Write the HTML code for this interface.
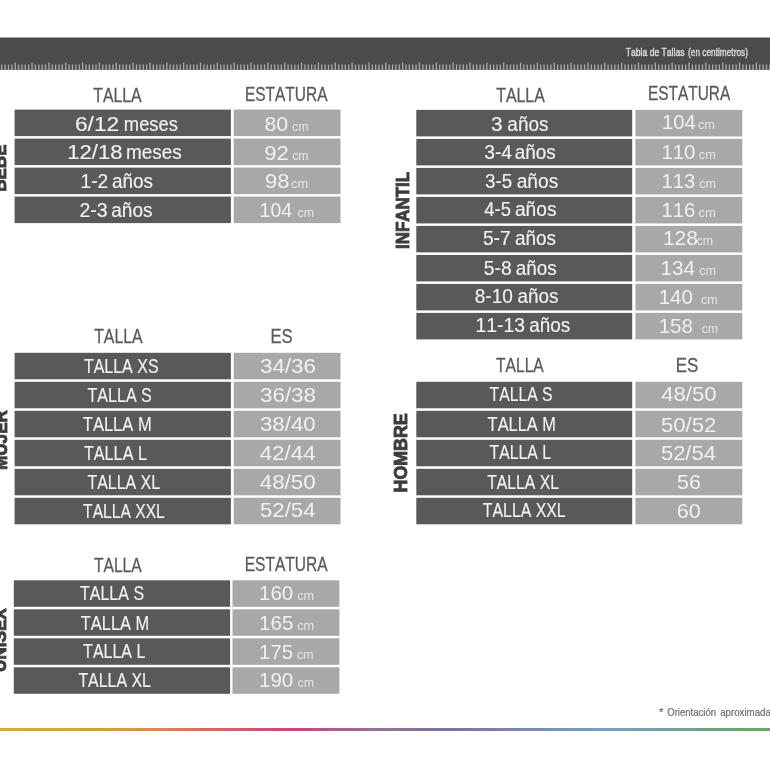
<!DOCTYPE html>
<html><head><meta charset="utf-8"><title>Tabla de Tallas</title>
<style>
html,body{margin:0;padding:0;background:#fff;}
body{width:770px;height:770px;overflow:hidden;}
svg{display:block;will-change:transform;font-family:'Liberation Sans', sans-serif;font-kerning:none;}
text{font-family:'Liberation Sans', sans-serif;}
</style></head><body>
<svg width="770" height="770" viewBox="0 0 770 770">
<defs><linearGradient id="rb" x1="0" y1="0" x2="770" y2="0" gradientUnits="userSpaceOnUse">
<stop offset="0" stop-color="#d8aa40"/>
<stop offset="0.13" stop-color="#d4a03e"/>
<stop offset="0.2" stop-color="#d88c50"/>
<stop offset="0.26" stop-color="#d07060"/>
<stop offset="0.38" stop-color="#c4487c"/>
<stop offset="0.49" stop-color="#947098"/>
<stop offset="0.58" stop-color="#8070a0"/>
<stop offset="0.71" stop-color="#7890b0"/>
<stop offset="0.78" stop-color="#7c9cc0"/>
<stop offset="0.83" stop-color="#78a0b4"/>
<stop offset="0.9" stop-color="#72a092"/>
<stop offset="1" stop-color="#6aa852"/>
</linearGradient></defs>
<rect x="0" y="0" width="770" height="770" fill="#ffffff"/>
<rect x="0.00" y="37.50" width="770.00" height="32.40" fill="#4a4c4a"/>
<path d="M1.72 64.4V69.9 M5.09 64.4V69.9 M8.46 64.4V69.9 M11.83 64.4V69.9 M15.20 62.4V69.9 M18.57 64.4V69.9 M21.94 64.4V69.9 M25.31 64.4V69.9 M28.68 64.4V69.9 M32.05 62.4V69.9 M35.41 64.4V69.9 M38.78 64.4V69.9 M42.15 64.4V69.9 M45.52 64.4V69.9 M48.89 62.4V69.9 M52.26 64.4V69.9 M55.63 64.4V69.9 M59.00 64.4V69.9 M62.37 64.4V69.9 M65.73 62.4V69.9 M69.10 64.4V69.9 M72.47 64.4V69.9 M75.84 64.4V69.9 M79.21 64.4V69.9 M82.58 62.4V69.9 M85.95 64.4V69.9 M89.32 64.4V69.9 M92.69 64.4V69.9 M96.06 64.4V69.9 M99.42 62.4V69.9 M102.79 64.4V69.9 M106.16 64.4V69.9 M109.53 64.4V69.9 M112.90 64.4V69.9 M116.27 62.4V69.9 M119.64 64.4V69.9 M123.01 64.4V69.9 M126.38 64.4V69.9 M129.75 64.4V69.9 M133.11 62.4V69.9 M136.48 64.4V69.9 M139.85 64.4V69.9 M143.22 64.4V69.9 M146.59 64.4V69.9 M149.96 62.4V69.9 M153.33 64.4V69.9 M156.70 64.4V69.9 M160.07 64.4V69.9 M163.44 64.4V69.9 M166.80 62.4V69.9 M170.17 64.4V69.9 M173.54 64.4V69.9 M176.91 64.4V69.9 M180.28 64.4V69.9 M183.65 62.4V69.9 M187.02 64.4V69.9 M190.39 64.4V69.9 M193.76 64.4V69.9 M197.13 64.4V69.9 M200.49 62.4V69.9 M203.86 64.4V69.9 M207.23 64.4V69.9 M210.60 64.4V69.9 M213.97 64.4V69.9 M217.34 62.4V69.9 M220.71 64.4V69.9 M224.08 64.4V69.9 M227.45 64.4V69.9 M230.82 64.4V69.9 M234.18 62.4V69.9 M237.55 64.4V69.9 M240.92 64.4V69.9 M244.29 64.4V69.9 M247.66 64.4V69.9 M251.03 62.4V69.9 M254.40 64.4V69.9 M257.77 64.4V69.9 M261.14 64.4V69.9 M264.51 64.4V69.9 M267.88 62.4V69.9 M271.24 64.4V69.9 M274.61 64.4V69.9 M277.98 64.4V69.9 M281.35 64.4V69.9 M284.72 62.4V69.9 M288.09 64.4V69.9 M291.46 64.4V69.9 M294.83 64.4V69.9 M298.20 64.4V69.9 M301.56 62.4V69.9 M304.93 64.4V69.9 M308.30 64.4V69.9 M311.67 64.4V69.9 M315.04 64.4V69.9 M318.41 62.4V69.9 M321.78 64.4V69.9 M325.15 64.4V69.9 M328.52 64.4V69.9 M331.89 64.4V69.9 M335.25 62.4V69.9 M338.62 64.4V69.9 M341.99 64.4V69.9 M345.36 64.4V69.9 M348.73 64.4V69.9 M352.10 62.4V69.9 M355.47 64.4V69.9 M358.84 64.4V69.9 M362.21 64.4V69.9 M365.58 64.4V69.9 M368.94 62.4V69.9 M372.31 64.4V69.9 M375.68 64.4V69.9 M379.05 64.4V69.9 M382.42 64.4V69.9 M385.79 62.4V69.9 M389.16 64.4V69.9 M392.53 64.4V69.9 M395.90 64.4V69.9 M399.27 64.4V69.9 M402.63 62.4V69.9 M406.00 64.4V69.9 M409.37 64.4V69.9 M412.74 64.4V69.9 M416.11 64.4V69.9 M419.48 62.4V69.9 M422.85 64.4V69.9 M426.22 64.4V69.9 M429.59 64.4V69.9 M432.96 64.4V69.9 M436.32 62.4V69.9 M439.69 64.4V69.9 M443.06 64.4V69.9 M446.43 64.4V69.9 M449.80 64.4V69.9 M453.17 62.4V69.9 M456.54 64.4V69.9 M459.91 64.4V69.9 M463.28 64.4V69.9 M466.65 64.4V69.9 M470.01 62.4V69.9 M473.38 64.4V69.9 M476.75 64.4V69.9 M480.12 64.4V69.9 M483.49 64.4V69.9 M486.86 62.4V69.9 M490.23 64.4V69.9 M493.60 64.4V69.9 M496.97 64.4V69.9 M500.34 64.4V69.9 M503.70 62.4V69.9 M507.07 64.4V69.9 M510.44 64.4V69.9 M513.81 64.4V69.9 M517.18 64.4V69.9 M520.55 62.4V69.9 M523.92 64.4V69.9 M527.29 64.4V69.9 M530.66 64.4V69.9 M534.03 64.4V69.9 M537.39 62.4V69.9 M540.76 64.4V69.9 M544.13 64.4V69.9 M547.50 64.4V69.9 M550.87 64.4V69.9 M554.24 62.4V69.9 M557.61 64.4V69.9 M560.98 64.4V69.9 M564.35 64.4V69.9 M567.72 64.4V69.9 M571.09 62.4V69.9 M574.45 64.4V69.9 M577.82 64.4V69.9 M581.19 64.4V69.9 M584.56 64.4V69.9 M587.93 62.4V69.9 M591.30 64.4V69.9 M594.67 64.4V69.9 M598.04 64.4V69.9 M601.41 64.4V69.9 M604.77 62.4V69.9 M608.14 64.4V69.9 M611.51 64.4V69.9 M614.88 64.4V69.9 M618.25 64.4V69.9 M621.62 62.4V69.9 M624.99 64.4V69.9 M628.36 64.4V69.9 M631.73 64.4V69.9 M635.10 64.4V69.9 M638.47 62.4V69.9 M641.83 64.4V69.9 M645.20 64.4V69.9 M648.57 64.4V69.9 M651.94 64.4V69.9 M655.31 62.4V69.9 M658.68 64.4V69.9 M662.05 64.4V69.9 M665.42 64.4V69.9 M668.79 64.4V69.9 M672.15 62.4V69.9 M675.52 64.4V69.9 M678.89 64.4V69.9 M682.26 64.4V69.9 M685.63 64.4V69.9 M689.00 62.4V69.9 M692.37 64.4V69.9 M695.74 64.4V69.9 M699.11 64.4V69.9 M702.48 64.4V69.9 M705.85 62.4V69.9 M709.21 64.4V69.9 M712.58 64.4V69.9 M715.95 64.4V69.9 M719.32 64.4V69.9 M722.69 62.4V69.9 M726.06 64.4V69.9 M729.43 64.4V69.9 M732.80 64.4V69.9 M736.17 64.4V69.9 M739.53 62.4V69.9 M742.90 64.4V69.9 M746.27 64.4V69.9 M749.64 64.4V69.9 M753.01 64.4V69.9 M756.38 62.4V69.9 M759.75 64.4V69.9 M763.12 64.4V69.9 M766.49 64.4V69.9 M769.86 64.4V69.9" stroke="#aaaaaa" stroke-width="1.3" fill="none"/>
<text x="625.83" y="56.20" font-size="11" fill="#dadada" textLength="58.65" lengthAdjust="spacingAndGlyphs" stroke="#dadada" stroke-width="0.45">Tabla de Tallas</text>
<text x="688.09" y="56.40" font-size="10.2" fill="#dadada" textLength="59.83" lengthAdjust="spacingAndGlyphs" stroke="#dadada" stroke-width="0.4">(en centimetros)</text>
<rect x="14.60" y="109.60" width="216.30" height="26.50" fill="#575a57"/>
<rect x="233.70" y="109.60" width="106.80" height="26.50" fill="#a8a8a8"/>
<rect x="14.60" y="138.60" width="216.30" height="26.50" fill="#575a57"/>
<rect x="233.70" y="138.60" width="106.80" height="26.50" fill="#a8a8a8"/>
<rect x="14.60" y="167.60" width="216.30" height="26.50" fill="#575a57"/>
<rect x="233.70" y="167.60" width="106.80" height="26.50" fill="#a8a8a8"/>
<rect x="14.60" y="196.60" width="216.30" height="26.50" fill="#575a57"/>
<rect x="233.70" y="196.60" width="106.80" height="26.50" fill="#a8a8a8"/>
<rect x="14.60" y="352.80" width="216.30" height="26.50" fill="#575a57"/>
<rect x="233.70" y="352.80" width="106.80" height="26.50" fill="#a8a8a8"/>
<rect x="14.60" y="381.80" width="216.30" height="26.50" fill="#575a57"/>
<rect x="233.70" y="381.80" width="106.80" height="26.50" fill="#a8a8a8"/>
<rect x="14.60" y="410.80" width="216.30" height="26.50" fill="#575a57"/>
<rect x="233.70" y="410.80" width="106.80" height="26.50" fill="#a8a8a8"/>
<rect x="14.60" y="439.80" width="216.30" height="26.50" fill="#575a57"/>
<rect x="233.70" y="439.80" width="106.80" height="26.50" fill="#a8a8a8"/>
<rect x="14.60" y="468.80" width="216.30" height="26.50" fill="#575a57"/>
<rect x="233.70" y="468.80" width="106.80" height="26.50" fill="#a8a8a8"/>
<rect x="14.60" y="497.80" width="216.30" height="26.50" fill="#575a57"/>
<rect x="233.70" y="497.80" width="106.80" height="26.50" fill="#a8a8a8"/>
<rect x="13.80" y="580.30" width="216.30" height="26.50" fill="#575a57"/>
<rect x="232.50" y="580.30" width="106.90" height="26.50" fill="#a8a8a8"/>
<rect x="13.80" y="609.30" width="216.30" height="26.50" fill="#575a57"/>
<rect x="232.50" y="609.30" width="106.90" height="26.50" fill="#a8a8a8"/>
<rect x="13.80" y="638.30" width="216.30" height="26.50" fill="#575a57"/>
<rect x="232.50" y="638.30" width="106.90" height="26.50" fill="#a8a8a8"/>
<rect x="13.80" y="667.30" width="216.30" height="26.50" fill="#575a57"/>
<rect x="232.50" y="667.30" width="106.90" height="26.50" fill="#a8a8a8"/>
<rect x="416.30" y="109.90" width="215.90" height="26.50" fill="#575a57"/>
<rect x="635.40" y="109.90" width="106.90" height="26.50" fill="#a8a8a8"/>
<rect x="416.30" y="138.90" width="215.90" height="26.50" fill="#575a57"/>
<rect x="635.40" y="138.90" width="106.90" height="26.50" fill="#a8a8a8"/>
<rect x="416.30" y="167.90" width="215.90" height="26.50" fill="#575a57"/>
<rect x="635.40" y="167.90" width="106.90" height="26.50" fill="#a8a8a8"/>
<rect x="416.30" y="196.90" width="215.90" height="26.50" fill="#575a57"/>
<rect x="635.40" y="196.90" width="106.90" height="26.50" fill="#a8a8a8"/>
<rect x="416.30" y="225.90" width="215.90" height="26.50" fill="#575a57"/>
<rect x="635.40" y="225.90" width="106.90" height="26.50" fill="#a8a8a8"/>
<rect x="416.30" y="254.90" width="215.90" height="26.50" fill="#575a57"/>
<rect x="635.40" y="254.90" width="106.90" height="26.50" fill="#a8a8a8"/>
<rect x="416.30" y="283.90" width="215.90" height="26.50" fill="#575a57"/>
<rect x="635.40" y="283.90" width="106.90" height="26.50" fill="#a8a8a8"/>
<rect x="416.30" y="312.90" width="215.90" height="26.50" fill="#575a57"/>
<rect x="635.40" y="312.90" width="106.90" height="26.50" fill="#a8a8a8"/>
<rect x="416.30" y="381.80" width="215.90" height="26.50" fill="#575a57"/>
<rect x="635.40" y="381.80" width="106.90" height="26.50" fill="#a8a8a8"/>
<rect x="416.30" y="410.80" width="215.90" height="26.50" fill="#575a57"/>
<rect x="635.40" y="410.80" width="106.90" height="26.50" fill="#a8a8a8"/>
<rect x="416.30" y="439.80" width="215.90" height="26.50" fill="#575a57"/>
<rect x="635.40" y="439.80" width="106.90" height="26.50" fill="#a8a8a8"/>
<rect x="416.30" y="468.80" width="215.90" height="26.50" fill="#575a57"/>
<rect x="635.40" y="468.80" width="106.90" height="26.50" fill="#a8a8a8"/>
<rect x="416.30" y="497.80" width="215.90" height="26.50" fill="#575a57"/>
<rect x="635.40" y="497.80" width="106.90" height="26.50" fill="#a8a8a8"/>
<text x="93.28" y="101.80" font-size="20" fill="#5a5a5a" textLength="48.41" lengthAdjust="spacingAndGlyphs" stroke="#5a5a5a" stroke-width="0.28">TALLA</text>
<text x="244.97" y="100.80" font-size="20" fill="#5a5a5a" textLength="82.52" lengthAdjust="spacingAndGlyphs" stroke="#5a5a5a" stroke-width="0.28">ESTATURA</text>
<text x="94.18" y="342.70" font-size="20" fill="#5a5a5a" textLength="48.41" lengthAdjust="spacingAndGlyphs" stroke="#5a5a5a" stroke-width="0.28">TALLA</text>
<text x="270.47" y="343.10" font-size="20" fill="#5a5a5a" textLength="22.25" lengthAdjust="spacingAndGlyphs" stroke="#5a5a5a" stroke-width="0.28">ES</text>
<text x="93.99" y="572.00" font-size="20" fill="#5a5a5a" textLength="47.70" lengthAdjust="spacingAndGlyphs" stroke="#5a5a5a" stroke-width="0.28">TALLA</text>
<text x="244.66" y="571.40" font-size="20" fill="#5a5a5a" textLength="82.93" lengthAdjust="spacingAndGlyphs" stroke="#5a5a5a" stroke-width="0.28">ESTATURA</text>
<text x="496.18" y="101.70" font-size="20" fill="#5a5a5a" textLength="48.61" lengthAdjust="spacingAndGlyphs" stroke="#5a5a5a" stroke-width="0.28">TALLA</text>
<text x="647.98" y="100.30" font-size="20" fill="#5a5a5a" textLength="82.21" lengthAdjust="spacingAndGlyphs" stroke="#5a5a5a" stroke-width="0.28">ESTATURA</text>
<text x="495.99" y="371.80" font-size="20" fill="#5a5a5a" textLength="47.80" lengthAdjust="spacingAndGlyphs" stroke="#5a5a5a" stroke-width="0.28">TALLA</text>
<text x="675.75" y="371.80" font-size="20" fill="#5a5a5a" textLength="22.59" lengthAdjust="spacingAndGlyphs" stroke="#5a5a5a" stroke-width="0.28">ES</text>
<text x="74.92" y="131.10" font-size="21" fill="#f2f2f2" textLength="44.35" lengthAdjust="spacingAndGlyphs" stroke="#f2f2f2" stroke-width="0.15">6/12</text>
<text x="123.86" y="131.10" font-size="20" fill="#f2f2f2" textLength="54.03" lengthAdjust="spacingAndGlyphs" stroke="#f2f2f2" stroke-width="0.15">meses</text>
<text x="67.19" y="159.10" font-size="21" fill="#f2f2f2" textLength="55.29" lengthAdjust="spacingAndGlyphs" stroke="#f2f2f2" stroke-width="0.15">12/18</text>
<text x="126.02" y="159.10" font-size="20" fill="#f2f2f2" textLength="55.79" lengthAdjust="spacingAndGlyphs" stroke="#f2f2f2" stroke-width="0.15">meses</text>
<text x="80.52" y="188.30" font-size="21" fill="#f2f2f2" textLength="27.67" lengthAdjust="spacingAndGlyphs" stroke="#f2f2f2" stroke-width="0.15">1-2</text>
<text x="111.97" y="188.30" font-size="20" fill="#f2f2f2" textLength="41.14" lengthAdjust="spacingAndGlyphs" stroke="#f2f2f2" stroke-width="0.15">años</text>
<text x="79.39" y="217.00" font-size="21" fill="#f2f2f2" textLength="28.29" lengthAdjust="spacingAndGlyphs" stroke="#f2f2f2" stroke-width="0.15">2-3</text>
<text x="111.26" y="217.00" font-size="20" fill="#f2f2f2" textLength="41.35" lengthAdjust="spacingAndGlyphs" stroke="#f2f2f2" stroke-width="0.15">años</text>
<text x="83.92" y="372.60" font-size="20" fill="#f2f2f2" textLength="74.64" lengthAdjust="spacingAndGlyphs" stroke="#f2f2f2" stroke-width="0.15">TALLA XS</text>
<text x="87.41" y="402.00" font-size="20" fill="#f2f2f2" textLength="64.45" lengthAdjust="spacingAndGlyphs" stroke="#f2f2f2" stroke-width="0.15">TALLA S</text>
<text x="82.80" y="430.60" font-size="20" fill="#f2f2f2" textLength="68.88" lengthAdjust="spacingAndGlyphs" stroke="#f2f2f2" stroke-width="0.15">TALLA M</text>
<text x="83.91" y="459.90" font-size="20" fill="#f2f2f2" textLength="63.05" lengthAdjust="spacingAndGlyphs" stroke="#f2f2f2" stroke-width="0.15">TALLA L</text>
<text x="87.42" y="489.00" font-size="20" fill="#f2f2f2" textLength="72.74" lengthAdjust="spacingAndGlyphs" stroke="#f2f2f2" stroke-width="0.15">TALLA XL</text>
<text x="83.12" y="517.60" font-size="20" fill="#f2f2f2" textLength="81.72" lengthAdjust="spacingAndGlyphs" stroke="#f2f2f2" stroke-width="0.15">TALLA XXL</text>
<text x="80.02" y="600.40" font-size="20" fill="#f2f2f2" textLength="64.04" lengthAdjust="spacingAndGlyphs" stroke="#f2f2f2" stroke-width="0.15">TALLA S</text>
<text x="80.71" y="629.70" font-size="20" fill="#f2f2f2" textLength="68.57" lengthAdjust="spacingAndGlyphs" stroke="#f2f2f2" stroke-width="0.15">TALLA M</text>
<text x="83.12" y="658.10" font-size="20" fill="#f2f2f2" textLength="62.24" lengthAdjust="spacingAndGlyphs" stroke="#f2f2f2" stroke-width="0.15">TALLA L</text>
<text x="78.42" y="687.10" font-size="20" fill="#f2f2f2" textLength="72.43" lengthAdjust="spacingAndGlyphs" stroke="#f2f2f2" stroke-width="0.15">TALLA XL</text>
<text x="491.08" y="130.60" font-size="21" fill="#f2f2f2" textLength="11.55" lengthAdjust="spacingAndGlyphs" stroke="#f2f2f2" stroke-width="0.15">3</text>
<text x="507.37" y="130.60" font-size="20" fill="#f2f2f2" textLength="41.14" lengthAdjust="spacingAndGlyphs" stroke="#f2f2f2" stroke-width="0.15">años</text>
<text x="484.24" y="158.60" font-size="21" fill="#f2f2f2" textLength="27.85" lengthAdjust="spacingAndGlyphs" stroke="#f2f2f2" stroke-width="0.15">3-4</text>
<text x="514.77" y="158.60" font-size="20" fill="#f2f2f2" textLength="40.93" lengthAdjust="spacingAndGlyphs" stroke="#f2f2f2" stroke-width="0.15">años</text>
<text x="485.06" y="187.70" font-size="21" fill="#f2f2f2" textLength="27.15" lengthAdjust="spacingAndGlyphs" stroke="#f2f2f2" stroke-width="0.15">3-5</text>
<text x="516.66" y="187.70" font-size="20" fill="#f2f2f2" textLength="41.56" lengthAdjust="spacingAndGlyphs" stroke="#f2f2f2" stroke-width="0.15">años</text>
<text x="484.15" y="216.00" font-size="21" fill="#f2f2f2" textLength="26.86" lengthAdjust="spacingAndGlyphs" stroke="#f2f2f2" stroke-width="0.15">4-5</text>
<text x="514.96" y="216.00" font-size="20" fill="#f2f2f2" textLength="41.56" lengthAdjust="spacingAndGlyphs" stroke="#f2f2f2" stroke-width="0.15">años</text>
<text x="482.91" y="245.40" font-size="21" fill="#f2f2f2" textLength="27.79" lengthAdjust="spacingAndGlyphs" stroke="#f2f2f2" stroke-width="0.15">5-7</text>
<text x="514.97" y="245.40" font-size="20" fill="#f2f2f2" textLength="41.04" lengthAdjust="spacingAndGlyphs" stroke="#f2f2f2" stroke-width="0.15">años</text>
<text x="483.80" y="274.90" font-size="21" fill="#f2f2f2" textLength="27.97" lengthAdjust="spacingAndGlyphs" stroke="#f2f2f2" stroke-width="0.15">5-8</text>
<text x="515.87" y="274.90" font-size="20" fill="#f2f2f2" textLength="40.93" lengthAdjust="spacingAndGlyphs" stroke="#f2f2f2" stroke-width="0.15">años</text>
<text x="474.75" y="303.30" font-size="21" fill="#f2f2f2" textLength="38.23" lengthAdjust="spacingAndGlyphs" stroke="#f2f2f2" stroke-width="0.15">8-10</text>
<text x="517.47" y="303.30" font-size="20" fill="#f2f2f2" textLength="41.04" lengthAdjust="spacingAndGlyphs" stroke="#f2f2f2" stroke-width="0.15">años</text>
<text x="475.50" y="332.40" font-size="21" fill="#f2f2f2" textLength="49.47" lengthAdjust="spacingAndGlyphs" stroke="#f2f2f2" stroke-width="0.15">11-13</text>
<text x="529.37" y="332.40" font-size="20" fill="#f2f2f2" textLength="40.93" lengthAdjust="spacingAndGlyphs" stroke="#f2f2f2" stroke-width="0.15">años</text>
<text x="489.52" y="400.90" font-size="20" fill="#f2f2f2" textLength="63.03" lengthAdjust="spacingAndGlyphs" stroke="#f2f2f2" stroke-width="0.15">TALLA S</text>
<text x="487.61" y="430.90" font-size="20" fill="#f2f2f2" textLength="68.36" lengthAdjust="spacingAndGlyphs" stroke="#f2f2f2" stroke-width="0.15">TALLA M</text>
<text x="489.52" y="459.00" font-size="20" fill="#f2f2f2" textLength="61.43" lengthAdjust="spacingAndGlyphs" stroke="#f2f2f2" stroke-width="0.15">TALLA L</text>
<text x="487.22" y="488.70" font-size="20" fill="#f2f2f2" textLength="71.73" lengthAdjust="spacingAndGlyphs" stroke="#f2f2f2" stroke-width="0.15">TALLA XL</text>
<text x="482.82" y="516.80" font-size="20" fill="#f2f2f2" textLength="82.83" lengthAdjust="spacingAndGlyphs" stroke="#f2f2f2" stroke-width="0.15">TALLA XXL</text>
<text x="264.47" y="130.90" font-size="21" fill="#f1f1f1" textLength="23.76" lengthAdjust="spacingAndGlyphs">80</text>
<text x="292.08" y="130.90" font-size="13" fill="#e6e6e6" textLength="16.44" lengthAdjust="spacingAndGlyphs">cm</text>
<text x="264.16" y="159.50" font-size="21" fill="#f1f1f1" textLength="24.65" lengthAdjust="spacingAndGlyphs">92</text>
<text x="292.17" y="159.50" font-size="13" fill="#e6e6e6" textLength="16.55" lengthAdjust="spacingAndGlyphs">cm</text>
<text x="264.96" y="187.50" font-size="21" fill="#f1f1f1" textLength="24.60" lengthAdjust="spacingAndGlyphs">98</text>
<text x="290.95" y="187.50" font-size="13" fill="#e6e6e6" textLength="17.20" lengthAdjust="spacingAndGlyphs">cm</text>
<text x="259.62" y="217.00" font-size="21" fill="#f1f1f1" textLength="32.45" lengthAdjust="spacingAndGlyphs">104</text>
<text x="297.47" y="217.00" font-size="13" fill="#e6e6e6" textLength="16.55" lengthAdjust="spacingAndGlyphs">cm</text>
<text x="259.95" y="372.70" font-size="21" fill="#f1f1f1" textLength="56.14" lengthAdjust="spacingAndGlyphs">34/36</text>
<text x="259.95" y="402.30" font-size="21" fill="#f1f1f1" textLength="56.13" lengthAdjust="spacingAndGlyphs">36/38</text>
<text x="259.95" y="430.90" font-size="21" fill="#f1f1f1" textLength="55.82" lengthAdjust="spacingAndGlyphs">38/40</text>
<text x="259.69" y="459.70" font-size="21" fill="#f1f1f1" textLength="55.87" lengthAdjust="spacingAndGlyphs">42/44</text>
<text x="259.69" y="489.00" font-size="21" fill="#f1f1f1" textLength="56.09" lengthAdjust="spacingAndGlyphs">48/50</text>
<text x="259.91" y="517.40" font-size="21" fill="#f1f1f1" textLength="55.64" lengthAdjust="spacingAndGlyphs">52/54</text>
<text x="259.04" y="600.10" font-size="21" fill="#f1f1f1" textLength="34.27" lengthAdjust="spacingAndGlyphs">160</text>
<text x="297.16" y="600.10" font-size="13" fill="#e6e6e6" textLength="16.98" lengthAdjust="spacingAndGlyphs">cm</text>
<text x="259.03" y="629.70" font-size="21" fill="#f1f1f1" textLength="34.33" lengthAdjust="spacingAndGlyphs">165</text>
<text x="297.16" y="629.70" font-size="13" fill="#e6e6e6" textLength="16.98" lengthAdjust="spacingAndGlyphs">cm</text>
<text x="259.05" y="658.60" font-size="21" fill="#f1f1f1" textLength="34.01" lengthAdjust="spacingAndGlyphs">175</text>
<text x="296.66" y="658.60" font-size="13" fill="#e6e6e6" textLength="16.98" lengthAdjust="spacingAndGlyphs">cm</text>
<text x="259.04" y="687.40" font-size="21" fill="#f1f1f1" textLength="34.27" lengthAdjust="spacingAndGlyphs">190</text>
<text x="297.47" y="687.40" font-size="13" fill="#e6e6e6" textLength="16.65" lengthAdjust="spacingAndGlyphs">cm</text>
<text x="661.96" y="129.30" font-size="21" fill="#f1f1f1" textLength="33.84" lengthAdjust="spacingAndGlyphs">104</text>
<text x="697.96" y="129.30" font-size="13" fill="#e6e6e6" textLength="17.09" lengthAdjust="spacingAndGlyphs">cm</text>
<text x="661.46" y="158.50" font-size="21" fill="#f1f1f1" textLength="33.73" lengthAdjust="spacingAndGlyphs">110</text>
<text x="698.86" y="158.50" font-size="13" fill="#e6e6e6" textLength="16.98" lengthAdjust="spacingAndGlyphs">cm</text>
<text x="661.46" y="187.80" font-size="21" fill="#f1f1f1" textLength="33.84" lengthAdjust="spacingAndGlyphs">113</text>
<text x="699.16" y="187.80" font-size="13" fill="#e6e6e6" textLength="16.87" lengthAdjust="spacingAndGlyphs">cm</text>
<text x="661.46" y="216.50" font-size="21" fill="#f1f1f1" textLength="33.84" lengthAdjust="spacingAndGlyphs">116</text>
<text x="698.44" y="216.50" font-size="13" fill="#e6e6e6" textLength="17.42" lengthAdjust="spacingAndGlyphs">cm</text>
<text x="662.90" y="244.80" font-size="21" fill="#f1f1f1" textLength="35.01" lengthAdjust="spacingAndGlyphs">128</text>
<text x="696.47" y="244.80" font-size="13" fill="#e6e6e6" textLength="16.55" lengthAdjust="spacingAndGlyphs">cm</text>
<text x="660.42" y="274.50" font-size="21" fill="#f1f1f1" textLength="34.59" lengthAdjust="spacingAndGlyphs">134</text>
<text x="699.16" y="274.50" font-size="13" fill="#e6e6e6" textLength="16.87" lengthAdjust="spacingAndGlyphs">cm</text>
<text x="658.64" y="303.70" font-size="21" fill="#f1f1f1" textLength="34.27" lengthAdjust="spacingAndGlyphs">140</text>
<text x="701.07" y="303.70" font-size="13" fill="#e6e6e6" textLength="16.76" lengthAdjust="spacingAndGlyphs">cm</text>
<text x="658.63" y="332.50" font-size="21" fill="#f1f1f1" textLength="34.36" lengthAdjust="spacingAndGlyphs">158</text>
<text x="701.47" y="332.50" font-size="13" fill="#e6e6e6" textLength="16.55" lengthAdjust="spacingAndGlyphs">cm</text>
<text x="661.29" y="401.30" font-size="21" fill="#f1f1f1" textLength="55.27" lengthAdjust="spacingAndGlyphs">48/50</text>
<text x="660.91" y="431.50" font-size="21" fill="#f1f1f1" textLength="55.50" lengthAdjust="spacingAndGlyphs">50/52</text>
<text x="660.92" y="459.60" font-size="21" fill="#f1f1f1" textLength="55.02" lengthAdjust="spacingAndGlyphs">52/54</text>
<text x="677.04" y="488.80" font-size="21" fill="#f1f1f1" textLength="23.90" lengthAdjust="spacingAndGlyphs">56</text>
<text x="676.80" y="517.50" font-size="21" fill="#f1f1f1" textLength="24.04" lengthAdjust="spacingAndGlyphs">60</text>
<text transform="translate(5.85,191.79) rotate(-90)" x="0" y="0" font-size="17.8" fill="#3c3c3c" stroke="#3c3c3c" stroke-width="0.9" stroke-linejoin="miter" font-weight="bold" textLength="47.30" lengthAdjust="spacingAndGlyphs">BEBE</text>
<text transform="translate(6.65,470.10) rotate(-90)" x="0" y="0" font-size="17.8" fill="#3c3c3c" stroke="#3c3c3c" stroke-width="0.9" stroke-linejoin="miter" font-weight="bold" textLength="60.10" lengthAdjust="spacingAndGlyphs">MUJER</text>
<text transform="translate(6.35,671.88) rotate(-90)" x="0" y="0" font-size="17.8" fill="#3c3c3c" stroke="#3c3c3c" stroke-width="0.9" stroke-linejoin="miter" font-weight="bold" textLength="63.58" lengthAdjust="spacingAndGlyphs">UNISEX</text>
<text transform="translate(408.55,248.98) rotate(-90)" x="0" y="0" font-size="17.8" fill="#3c3c3c" stroke="#3c3c3c" stroke-width="0.9" stroke-linejoin="miter" font-weight="bold" textLength="77.15" lengthAdjust="spacingAndGlyphs">INFANTIL</text>
<text transform="translate(407.45,492.44) rotate(-90)" x="0" y="0" font-size="17.8" fill="#3c3c3c" stroke="#3c3c3c" stroke-width="0.9" stroke-linejoin="miter" font-weight="bold" textLength="79.09" lengthAdjust="spacingAndGlyphs">HOMBRE</text>
<text x="659.12" y="716.00" font-size="11.2" fill="#6c6c6c" textLength="4.36" lengthAdjust="spacingAndGlyphs" stroke="#6c6c6c" stroke-width="0.2">*</text>
<text x="667.25" y="716.00" font-size="11.2" fill="#6c6c6c" textLength="48.77" lengthAdjust="spacingAndGlyphs" stroke="#6c6c6c" stroke-width="0.2">Orientación</text>
<text x="720.19" y="716.00" font-size="11.2" fill="#6c6c6c" textLength="50.71" lengthAdjust="spacingAndGlyphs" stroke="#6c6c6c" stroke-width="0.2">aproximada</text>
<rect x="0" y="728" width="770" height="3" fill="url(#rb)"/>
</svg>
</body></html>
